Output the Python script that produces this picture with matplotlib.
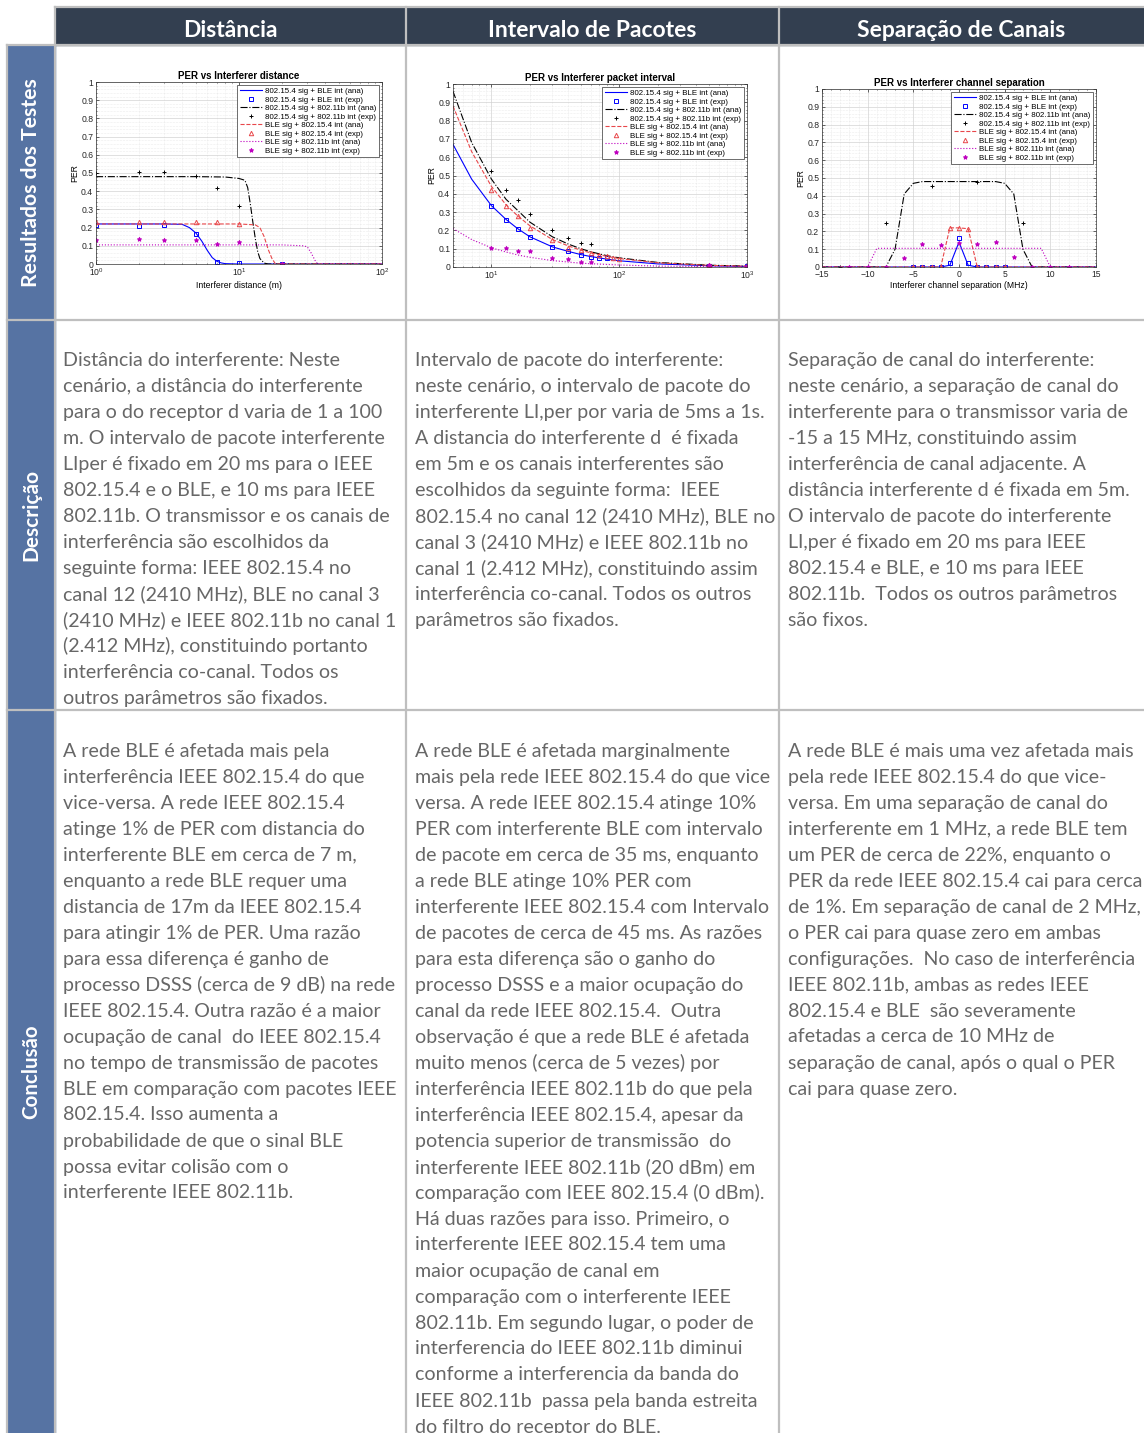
import numpy as np
import matplotlib.pyplot as plt
from matplotlib.ticker import MultipleLocator, LogLocator, NullFormatter
from matplotlib.patches import Rectangle

W, H = 1144, 1433

# ---------------- table text ----------------
headers = ["Distância", "Intervalo de Pacotes", "Separação de Canais"]
row_labels = ["Resultados dos Testes", "Descrição", "Conclusão"]

desc_dist = [
    "Distância do interferente: Neste",
    "cenário, a distância do interferente",
    "para o do receptor d varia de 1 a 100",
    "m. O intervalo de pacote interferente",
    "LIper é fixado em 20 ms para o IEEE",
    "802.15.4 e o BLE, e 10 ms para IEEE",
    "802.11b. O transmissor e os canais de",
    "interferência são escolhidos da",
    "seguinte forma: IEEE 802.15.4 no",
    "canal 12 (2410 MHz), BLE no canal 3",
    "(2410 MHz) e IEEE 802.11b no canal 1",
    "(2.412 MHz), constituindo portanto",
    "interferência co-canal. Todos os",
    "outros parâmetros são fixados.",
]
desc_interval = [
    "Intervalo de pacote do interferente:",
    "neste cenário, o intervalo de pacote do",
    "interferente LI,per por varia de 5ms a 1s.",
    "A distancia do interferente d  é fixada",
    "em 5m e os canais interferentes são",
    "escolhidos da seguinte forma:  IEEE",
    "802.15.4 no canal 12 (2410 MHz), BLE no",
    "canal 3 (2410 MHz) e IEEE 802.11b no",
    "canal 1 (2.412 MHz), constituindo assim",
    "interferência co-canal. Todos os outros",
    "parâmetros são fixados.",
]
desc_channel = [
    "Separação de canal do interferente:",
    "neste cenário, a separação de canal do",
    "interferente para o transmissor varia de",
    "-15 a 15 MHz, constituindo assim",
    "interferência de canal adjacente. A",
    "distância interferente d é fixada em 5m.",
    "O intervalo de pacote do interferente",
    "LI,per é fixado em 20 ms para IEEE",
    "802.15.4 e BLE, e 10 ms para IEEE",
    "802.11b.  Todos os outros parâmetros",
    "são fixos.",
]
concl_dist = [
    "A rede BLE é afetada mais pela",
    "interferência IEEE 802.15.4 do que",
    "vice-versa. A rede IEEE 802.15.4",
    "atinge 1% de PER com distancia do",
    "interferente BLE em cerca de 7 m,",
    "enquanto a rede BLE requer uma",
    "distancia de 17m da IEEE 802.15.4",
    "para atingir 1% de PER. Uma razão",
    "para essa diferença é ganho de",
    "processo DSSS (cerca de 9 dB) na rede",
    "IEEE 802.15.4. Outra razão é a maior",
    "ocupação de canal  do IEEE 802.15.4",
    "no tempo de transmissão de pacotes",
    "BLE em comparação com pacotes IEEE",
    "802.15.4. Isso aumenta a",
    "probabilidade de que o sinal BLE",
    "possa evitar colisão com o",
    "interferente IEEE 802.11b.",
]
concl_interval = [
    "A rede BLE é afetada marginalmente",
    "mais pela rede IEEE 802.15.4 do que vice",
    "versa. A rede IEEE 802.15.4 atinge 10%",
    "PER com interferente BLE com intervalo",
    "de pacote em cerca de 35 ms, enquanto",
    "a rede BLE atinge 10% PER com",
    "interferente IEEE 802.15.4 com Intervalo",
    "de pacotes de cerca de 45 ms. As razões",
    "para esta diferença são o ganho do",
    "processo DSSS e a maior ocupação do",
    "canal da rede IEEE 802.15.4.  Outra",
    "observação é que a rede BLE é afetada",
    "muito menos (cerca de 5 vezes) por",
    "interferência IEEE 802.11b do que pela",
    "interferência IEEE 802.15.4, apesar da",
    "potencia superior de transmissão  do",
    "interferente IEEE 802.11b (20 dBm) em",
    "comparação com IEEE 802.15.4 (0 dBm).",
    "Há duas razões para isso. Primeiro, o",
    "interferente IEEE 802.15.4 tem uma",
    "maior ocupação de canal em",
    "comparação com o interferente IEEE",
    "802.11b. Em segundo lugar, o poder de",
    "interferencia do IEEE 802.11b diminui",
    "conforme a interferencia da banda do",
    "IEEE 802.11b  passa pela banda estreita",
    "do filtro do receptor do BLE.",
]
concl_channel = [
    "A rede BLE é mais uma vez afetada mais",
    "pela rede IEEE 802.15.4 do que vice-",
    "versa. Em uma separação de canal do",
    "interferente em 1 MHz, a rede BLE tem",
    "um PER de cerca de 22%, enquanto o",
    "PER da rede IEEE 802.15.4 cai para cerca",
    "de 1%. Em separação de canal de 2 MHz,",
    "o PER cai para quase zero em ambas",
    "configurações.  No caso de interferência",
    "IEEE 802.11b, ambas as redes IEEE",
    "802.15.4 e BLE  são severamente",
    "afetadas a cerca de 10 MHz de",
    "separação de canal, após o qual o PER",
    "cai para quase zero.",
]

labels = ["802.15.4 sig + BLE int (ana)", "802.15.4 sig + BLE int (exp)",
          "802.15.4 sig + 802.11b int (ana)", "802.15.4 sig + 802.11b int (exp)",
          "BLE sig + 802.15.4 int (ana)", "BLE sig + 802.15.4 int (exp)",
          "BLE sig + 802.11b int (ana)", "BLE sig + 802.11b int (exp)"]

# ---------------- chart 1: PER vs interferer distance ----------------
d_zb_ble_x = [1, 3, 4, 4.5, 5, 5.5, 6, 6.5, 7, 7.5, 8, 10, 100]
d_zb_ble_y = [0.22, 0.22, 0.218, 0.2, 0.17, 0.125, 0.075, 0.035, 0.015, 0.006, 0.002, 0, 0]
d_zb_wifi_x = [1, 5, 8, 10, 11, 11.5, 12, 12.5, 13, 13.5, 14, 15, 16, 100]
d_zb_wifi_y = [0.48, 0.48, 0.478, 0.47, 0.46, 0.42, 0.33, 0.23, 0.14, 0.07, 0.03, 0.005, 0, 0]
d_ble_zb_x = [1, 10, 13, 14, 15, 16, 17, 18, 100]
d_ble_zb_y = [0.22, 0.22, 0.215, 0.2, 0.15, 0.08, 0.03, 0, 0]
d_ble_wifi_x = [1, 20, 28, 30, 32, 34, 35.5, 100]
d_ble_wifi_y = [0.105, 0.105, 0.1, 0.095, 0.06, 0.02, 0, 0]

d_exp_x = [1, 2, 3, 5, 7, 10, 20]
d_zb_ble_exp = [0.215, 0.21, 0.215, 0.165, 0.01, 0.003, 0.0]
d_zb_wifi_exp = [0.5, 0.505, 0.505, 0.485, 0.42, 0.32, 0.0]
d_ble_zb_exp = [0.23, 0.23, 0.23, 0.23, 0.23, 0.22, 0.0]
d_ble_wifi_exp = [0.13, 0.14, 0.13, 0.13, 0.11, 0.12, 0.0]

# ---------------- chart 2: PER vs packet interval ----------------
i_ana_x = [5, 7, 10, 13, 16, 20, 30, 40, 50, 60, 80, 100, 200, 500, 1000]
i_zb_ble_y = [0.67, 0.48, 0.335, 0.26, 0.21, 0.165, 0.11, 0.085, 0.068, 0.057, 0.043, 0.034, 0.017, 0.007, 0.003]
i_zb_wifi_y = [0.96, 0.68, 0.48, 0.37, 0.31, 0.245, 0.165, 0.125, 0.1, 0.083, 0.062, 0.05, 0.025, 0.01, 0.005]
i_ble_zb_y = [0.88, 0.63, 0.44, 0.34, 0.28, 0.225, 0.15, 0.115, 0.092, 0.077, 0.058, 0.046, 0.023, 0.009, 0.0045]
i_ble_wifi_y = [0.21, 0.15, 0.105, 0.082, 0.066, 0.053, 0.035, 0.027, 0.021, 0.018, 0.014, 0.011, 0.005, 0.002, 0.001]

i_zb_ble_exp_x = [10, 13, 16, 20, 30, 40, 50, 60, 70, 80, 500, 1000]
i_zb_ble_exp_y = [0.335, 0.255, 0.205, 0.165, 0.11, 0.085, 0.068, 0.055, 0.05, 0.048, 0.006, 0.004]
i_zb_wifi_exp_x = [10, 13, 16, 20, 30, 40, 50, 60, 500, 1000]
i_zb_wifi_exp_y = [0.525, 0.42, 0.365, 0.29, 0.2, 0.157, 0.133, 0.128, 0.008, 0.005]
i_ble_zb_exp_x = [10, 13, 16, 20, 30, 40, 50, 60, 70, 80, 90, 100, 500, 1000]
i_ble_zb_exp_y = [0.42, 0.335, 0.28, 0.215, 0.15, 0.105, 0.095, 0.075, 0.065, 0.058, 0.05, 0.045, 0.01, 0.005]
i_ble_wifi_exp_x = [10, 13, 16, 20, 30, 40, 50, 60, 500, 1000]
i_ble_wifi_exp_y = [0.105, 0.105, 0.09, 0.085, 0.05, 0.045, 0.025, 0.025, 0.01, 0.005]

# ---------------- chart 3: PER vs channel separation ----------------
c_zb_ble_x = [-15, -2, -1, 0, 1, 2, 15]
c_zb_ble_y = [0, 0, 0.01, 0.14, 0.01, 0, 0]
c_zb_wifi_x = [-15, -8, -7, -6, -5, -4, 4, 5, 6, 7, 8, 15]
c_zb_wifi_y = [0, 0, 0.1, 0.41, 0.47, 0.48, 0.48, 0.47, 0.41, 0.1, 0, 0]
c_ble_zb_x = [-15, -2, -1, 0, 1, 2, 15]
c_ble_zb_y = [0, 0, 0.22, 0.22, 0.215, 0, 0]
c_ble_wifi_x = [-15, -10, -9, 9, 10, 15]
c_ble_wifi_y = [0, 0, 0.105, 0.105, 0, 0]

c_sq_x = [-5, -4, -3, -2, -1, 0, 1, 2, 3, 4, 5]
c_zb_ble_exp = [0, 0, 0, 0, 0.025, 0.165, 0.025, 0, 0, 0, 0]
c_ble_zb_exp = [0, 0, 0, 0, 0.22, 0.22, 0.215, 0, 0, 0, 0]
c_zb_wifi_exp_x = [-13, -8, -3, 2, 7, 12]
c_zb_wifi_exp = [0, 0.245, 0.455, 0.475, 0.245, 0]
c_ble_wifi_exp_x = [-12, -10, -8, -6, -4, -2, 0, 2, 4, 6, 8, 10, 12]
c_ble_wifi_exp = [0, 0, 0, 0.05, 0.13, 0.125, 0.135, 0.13, 0.14, 0.055, 0, 0, 0]

# ---------------- figure / table ----------------
fig = plt.figure(figsize=(W / 100, H / 100), dpi=100)
bg = fig.add_axes([0, 0, 1, 1])
bg.set_xlim(0, W)
bg.set_ylim(H, 0)
bg.axis("off")

NAVY = "#333f50"
BLUE = "#5673a3"
LINE = "#bfbfbf"
TEXT = "#676767"

col_x = [55, 406, 779, 1144]
row_y = [45, 320, 710, H]

bg.add_patch(Rectangle((55, 7), W - 55, 38, color=NAVY, zorder=1))
bg.add_patch(Rectangle((7, 45), 48, H - 45, color=BLUE, zorder=1))
lw = 1.6
bg.plot([55, W], [7, 7], color=LINE, lw=lw, zorder=2)
for y in row_y[:-1]:
    bg.plot([7, W], [y, y], color=LINE, lw=lw, zorder=2)
for x in col_x[1:3]:
    bg.plot([x, x], [7, H], color=LINE, lw=lw, zorder=2)
bg.plot([7, 7], [45, H], color=LINE, lw=lw, zorder=2)
bg.plot([55, 55], [7, H], color=LINE, lw=lw, zorder=2)

for i, h in enumerate(headers):
    bg.text((col_x[i] + col_x[i + 1]) / 2, 30, h, color="white", fontsize=16.5,
            fontweight="bold", family="Lato", ha="center", va="center", zorder=3)
label_sizes = [15.2, 15.0, 14.8]
for i, lab in enumerate(row_labels):
    bg.text(31, (row_y[i] + row_y[i + 1]) / 2, lab, color="white",
            fontsize=label_sizes[i], fontweight="bold", family="Lato", rotation=90,
            ha="center", va="center", zorder=3)

text_x = [63, 415, 788]
BODY = 14.1
for j, block in enumerate([desc_dist, desc_interval, desc_channel]):
    for k, line in enumerate(block):
        bg.text(text_x[j], 360 + 26 * k, line, color=TEXT, fontsize=BODY,
                family="Lato", ha="left", va="center", zorder=3)
for j, block in enumerate([concl_dist, concl_interval, concl_channel]):
    for k, line in enumerate(block):
        bg.text(text_x[j], 751 + 26 * k, line, color=TEXT, fontsize=BODY,
                family="Lato", ha="left", va="center", zorder=3)

# ---------------- inner charts ----------------
plt.rcParams["font.family"] = ["Liberation Sans", "DejaVu Sans"]
FS = 6.2


def px_axes(x0, y0, x1, y1):
    return fig.add_axes([x0 / W, 1 - y1 / H, (x1 - x0) / W, (y1 - y0) / H])


def style(ax, title, xlabel):
    ax.set_title(title, fontsize=7.0, fontweight="bold", pad=2)
    ax.set_ylabel("PER", fontsize=FS, labelpad=1)
    if xlabel:
        ax.set_xlabel(xlabel, fontsize=FS, labelpad=1.5)
    ax.set_ylim(0, 1)
    ax.yaxis.set_major_locator(MultipleLocator(0.1))
    ax.yaxis.set_minor_locator(MultipleLocator(0.02))
    ax.tick_params(which="both", direction="in", labelsize=FS, length=2, width=0.4,
                   top=True, right=True, pad=2, labelcolor="#262626")
    ax.tick_params(which="minor", length=1)
    ax.grid(True, which="major", color="#cfcfcf", lw=0.45)
    ax.grid(True, which="minor", color="#dcdcdc", lw=0.4, ls=":")
    for s in ax.spines.values():
        s.set_linewidth(0.5)
        s.set_color("#333333")
    ax.yaxis.set_major_formatter(plt.FuncFormatter(lambda v, p: f"{v:g}"))


def draw(ax, ana, exp):
    styles = [("b", "-"), ("k", "-."), ("#e8474a", "--"), ("m", ":")]
    marks = [("s", "b", "none"), ("+", "k", "k"), ("^", "#e8474a", "none"), ("*", "m", "m")]
    handles = []
    for (xa, ya), (xe, ye), (c, ls), (mk, mc, mf) in zip(ana, exp, styles, marks):
        h1, = ax.plot(xa, ya, color=c, ls=ls, lw=0.8)
        h2, = ax.plot(xe, ye, ls="none", marker=mk, mec=mc, mfc=mf, ms=3.2, mew=0.7)
        handles += [h1, h2]
    leg = ax.legend(handles, labels, loc="upper right", fontsize=5.7, handlelength=2.8,
                    labelspacing=0.12, borderpad=0.3, handletextpad=0.4,
                    fancybox=False, framealpha=1, borderaxespad=0.4)
    leg.get_frame().set_linewidth(0.5)
    leg.get_frame().set_edgecolor("#333333")


ax1 = px_axes(96, 82, 382, 264)
draw(ax1,
     [(d_zb_ble_x, d_zb_ble_y), (d_zb_wifi_x, d_zb_wifi_y), (d_ble_zb_x, d_ble_zb_y), (d_ble_wifi_x, d_ble_wifi_y)],
     [(d_exp_x, d_zb_ble_exp), (d_exp_x, d_zb_wifi_exp), (d_exp_x, d_ble_zb_exp), (d_exp_x, d_ble_wifi_exp)])
ax1.set_xscale("log")
ax1.set_xlim(1, 100)
ax1.xaxis.set_minor_locator(LogLocator(subs=np.arange(2, 10)))
ax1.xaxis.set_minor_formatter(NullFormatter())
style(ax1, "PER vs Interferer distance", "Interferer distance (m)")

ax2 = px_axes(453, 84, 747, 267)
draw(ax2,
     [(i_ana_x, i_zb_ble_y), (i_ana_x, i_zb_wifi_y), (i_ana_x, i_ble_zb_y), (i_ana_x, i_ble_wifi_y)],
     [(i_zb_ble_exp_x, i_zb_ble_exp_y), (i_zb_wifi_exp_x, i_zb_wifi_exp_y),
      (i_ble_zb_exp_x, i_ble_zb_exp_y), (i_ble_wifi_exp_x, i_ble_wifi_exp_y)])
ax2.set_xscale("log")
ax2.set_xlim(5, 1000)
ax2.xaxis.set_minor_locator(LogLocator(subs=np.arange(2, 10)))
ax2.xaxis.set_minor_formatter(NullFormatter())
style(ax2, "PER vs Interferer packet interval", None)

ax3 = px_axes(822, 89, 1096, 267)
draw(ax3,
     [(c_zb_ble_x, c_zb_ble_y), (c_zb_wifi_x, c_zb_wifi_y), (c_ble_zb_x, c_ble_zb_y), (c_ble_wifi_x, c_ble_wifi_y)],
     [(c_sq_x, c_zb_ble_exp), (c_zb_wifi_exp_x, c_zb_wifi_exp), (c_sq_x, c_ble_zb_exp), (c_ble_wifi_exp_x, c_ble_wifi_exp)])
ax3.set_xlim(-15, 15)
ax3.xaxis.set_major_locator(MultipleLocator(5))
ax3.xaxis.set_minor_locator(MultipleLocator(1))
style(ax3, "PER vs Interferer channel separation", "Interferer channel separation (MHz)")

fig.savefig("out.png", dpi=100)
